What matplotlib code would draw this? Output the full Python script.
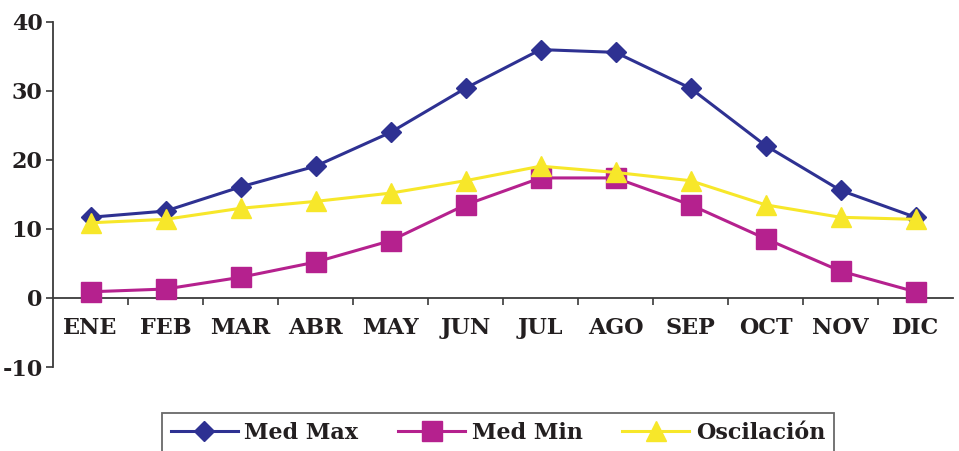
import matplotlib
matplotlib.use("Agg")
import matplotlib.pyplot as plt
from matplotlib.lines import Line2D
from matplotlib.font_manager import FontProperties
import numpy as np

months = ["ENE", "FEB", "MAR", "ABR", "MAY", "JUN", "JUL", "AGO", "SEP", "OCT", "NOV", "DIC"]
med_max = [11.7, 12.6, 16.1, 19.1, 24.0, 30.4, 36.0, 35.6, 30.4, 22.1, 15.6, 11.7]
med_min = [0.9, 1.3, 3.0, 5.2, 8.3, 13.5, 17.4, 17.4, 13.5, 8.6, 3.9, 0.9]
oscilacion = [10.9, 11.4, 13.0, 14.0, 15.2, 17.0, 19.1, 18.2, 17.0, 13.5, 11.7, 11.4]
y_ticks = [-10, 0, 10, 20, 30, 40]

c_max = "#2e3192"
c_min = "#b5218e"
c_osc = "#f7e72a"
axis_c = "#3a3a3a"
txt_c = "#231f20"

fig = plt.figure(figsize=(9.59, 4.51), dpi=100)
ax = fig.add_axes([53 / 959, 1 - 367 / 451, 900 / 959, 345 / 451])

x = np.arange(len(months)) + 0.5
ax.plot(x, med_max, color=c_max, lw=2.2, marker="D", ms=10.5, mec=c_max, zorder=3)
ax.plot(x, med_min, color=c_min, lw=2.2, marker="s", ms=14, mec=c_min, zorder=4)
ax.plot(x, oscilacion, color=c_osc, lw=2.2, marker="^", ms=15, mec=c_osc, zorder=5)

ax.set_xlim(0, len(months))
ax.set_ylim(-10, 40)

for s in ["top", "right"]:
    ax.spines[s].set_visible(False)
ax.spines["left"].set_color(axis_c)
ax.spines["left"].set_linewidth(1.3)
ax.spines["bottom"].set_position(("data", 0))
ax.spines["bottom"].set_color(axis_c)
ax.spines["bottom"].set_linewidth(1.3)

ax.set_yticks(y_ticks)
ax.set_yticklabels([str(v) for v in y_ticks], fontfamily="DejaVu Serif",
                   fontweight="bold", fontsize=16, color=txt_c)
ax.tick_params(axis="y", direction="out", length=5, width=1.2, color=axis_c, pad=2.5)

ax.set_xticks(np.arange(1, len(months)))
ax.set_xticklabels([])
ax.tick_params(axis="x", which="major", direction="out", length=5, width=1.2, color=axis_c)
ax.set_xticks(x, minor=True)
ax.set_xticklabels(months, minor=True, fontfamily="DejaVu Serif", fontweight="bold",
                   fontsize=16, color=txt_c)
ax.tick_params(axis="x", which="minor", length=0, pad=14)

handles = [
    Line2D([], [], color=c_max, lw=2.2, marker="D", ms=10.5, mec=c_max),
    Line2D([], [], color=c_min, lw=2.2, marker="s", ms=14, mec=c_min),
    Line2D([], [], color=c_osc, lw=2.2, marker="^", ms=15, mec=c_osc),
]
legend_font = FontProperties(family="DejaVu Serif", weight="bold", size=16)
leg = fig.legend(handles, ["Med Max", "Med Min", "Oscilación"], loc="upper left",
                 bbox_to_anchor=(162 / 959, 1 - 413 / 451), borderaxespad=0,
                 ncol=3, frameon=True, fancybox=False, edgecolor="#444444",
                 handlelength=3.0, columnspacing=1.8, handletextpad=0.3,
                 borderpad=0.4, prop=legend_font)
leg.get_frame().set_linewidth(1.3)
for t in leg.get_texts():
    t.set_color(txt_c)

fig.savefig("out.png", dpi=100)
